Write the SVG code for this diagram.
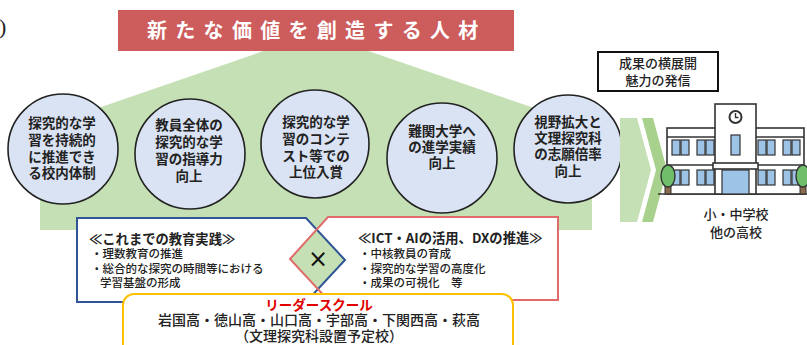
<svg xmlns="http://www.w3.org/2000/svg" width="807" height="345" viewBox="0 0 807 345">
  <style>
    text { font-family: "Noto Sans CJK JP", "Noto Sans", sans-serif; fill: #222; }
    .circle-node { fill: #dae3f3; stroke: #222; stroke-width: 1.6; }
    .ctext { font-size: 13.5px; font-weight: bold; text-anchor: middle; }
    .label { font-size: 13px; font-weight: 500; text-anchor: middle; }
    .head { font-size: 13.3px; font-weight: bold; }
    .item { font-size: 11.5px; font-weight: 500; }
    .line { stroke: #333; stroke-width: 1.6; }
    .win { fill: #9dc3e6; stroke: #333; stroke-width: 1.2; }
    .wall { fill: #fff; stroke: #333; stroke-width: 1.6; }
  </style>

  <!-- cut-off bracket at the upper left -->
  <text x="-1" y="34" style="font-family: 'Liberation Serif', serif; font-size: 22px;">)</text>

  <!-- green house-shaped backdrop -->
  <polygon id="backdrop" points="316,33 592,128 592,230 40,230 40,128" fill="#c5e0b4"/>

  <!-- title banner -->
  <g id="banner">
    <rect x="118" y="10" width="396" height="41" fill="#cd5c5c"/>
    <text x="147" y="38" style="fill:#fff; font-size:20px; font-weight:bold; letter-spacing:8.3px;">新たな価値を創造する人材</text>
  </g>

  <!-- goal circles -->
  <g id="goal-1">
    <circle class="circle-node" cx="63" cy="149" r="55"/>
    <text class="ctext"><tspan x="62" y="128">探究的な学</tspan><tspan x="62" y="145">習を持続的</tspan><tspan x="62" y="162">に推進でき</tspan><tspan x="62" y="178">る校内体制</tspan></text>
  </g>
  <g id="goal-2">
    <circle class="circle-node" cx="190" cy="154" r="55"/>
    <text class="ctext"><tspan x="189" y="130">教員全体の</tspan><tspan x="189" y="147">探究的な学</tspan><tspan x="189" y="164">習の指導力</tspan><tspan x="189" y="181">向上</tspan></text>
  </g>
  <g id="goal-3">
    <circle class="circle-node" cx="315" cy="144" r="54"/>
    <text class="ctext"><tspan x="316" y="127">探究的な学</tspan><tspan x="316" y="144">習のコンテ</tspan><tspan x="316" y="161">スト等での</tspan><tspan x="316" y="177">上位入賞</tspan></text>
  </g>
  <g id="goal-4">
    <circle class="circle-node" cx="442" cy="158" r="55"/>
    <text class="ctext"><tspan x="442" y="136">難関大学へ</tspan><tspan x="442" y="152">の進学実績</tspan><tspan x="442" y="168">向上</tspan></text>
  </g>
  <g id="goal-5">
    <circle class="circle-node" cx="568" cy="149" r="54"/>
    <text class="ctext"><tspan x="568" y="127">視野拡大と</tspan><tspan x="568" y="143">文理探究科</tspan><tspan x="568" y="159">の志願倍率</tspan><tspan x="568" y="176">向上</tspan></text>
  </g>

  <!-- arrows toward other schools -->
  <g id="connectors">
    <polygon points="620,118 637,118 651,170 637,222 620,222" fill="#c5e0b4"/>
    <polygon points="642,118 653,118 667,170 653,222 642,222 656,170" fill="#a9d18e"/>
  </g>

  <!-- spread box -->
  <g id="spread">
    <rect x="598" y="52" width="120" height="39" fill="#fff" stroke="#111" stroke-width="2"/>
    <text class="label"><tspan x="658" y="68">成果の横展開</tspan><tspan x="658" y="85">魅力の発信</tspan></text>
  </g>

  <!-- school building -->
  <g id="school">
    <line class="line" x1="658" y1="194" x2="807" y2="194"/>
    <rect class="wall" x="667" y="128" width="137" height="66"/>
    <line class="line" x1="667" y1="137" x2="804" y2="137"/>
    <line class="line" x1="667" y1="165" x2="804" y2="165"/>
    <!-- windows: upper row -->
    <rect class="win" x="672" y="140" width="8" height="15"/>
    <rect class="win" x="681" y="140" width="8" height="15"/>
    <rect class="win" x="697" y="140" width="8" height="15"/>
    <rect class="win" x="706" y="140" width="8" height="15"/>
    <rect class="win" x="758" y="140" width="8" height="15"/>
    <rect class="win" x="767" y="140" width="8" height="15"/>
    <rect class="win" x="783" y="140" width="8" height="15"/>
    <rect class="win" x="792" y="140" width="8" height="15"/>
    <!-- windows: lower row -->
    <rect class="win" x="672" y="170" width="8" height="15"/>
    <rect class="win" x="681" y="170" width="8" height="15"/>
    <rect class="win" x="697" y="170" width="8" height="15"/>
    <rect class="win" x="706" y="170" width="8" height="15"/>
    <rect class="win" x="758" y="170" width="8" height="15"/>
    <rect class="win" x="767" y="170" width="8" height="15"/>
    <rect class="win" x="783" y="170" width="8" height="15"/>
    <rect class="win" x="792" y="170" width="8" height="15"/>
    <!-- clock tower -->
    <rect class="wall" x="715" y="104" width="41" height="90"/>
    <circle cx="735.5" cy="117" r="6" fill="#fff" stroke="#333" stroke-width="2"/>
    <polyline points="735.5,113 735.5,117.5 738.5,117.5" fill="none" stroke="#333" stroke-width="1.4"/>
    <rect class="win" x="731" y="135" width="9" height="20"/>
    <rect class="wall" x="713" y="163" width="45" height="6"/>
    <rect class="win" x="722" y="170" width="27" height="24"/>
    <!-- trees -->
    <rect x="665" y="186" width="6" height="8" fill="#8c6a4c" stroke="#333" stroke-width="1"/>
    <ellipse cx="668" cy="176" rx="7" ry="11" fill="#6fbf6a" stroke="#333" stroke-width="1.4"/>
    <rect x="800" y="186" width="6" height="8" fill="#8c6a4c" stroke="#333" stroke-width="1"/>
    <ellipse cx="803" cy="176" rx="7" ry="11" fill="#6fbf6a" stroke="#333" stroke-width="1.4"/>
    <text class="label"><tspan x="736" y="219">小・中学校</tspan><tspan x="736" y="237">他の高校</tspan></text>
  </g>

  <!-- past practice box and digital box, overlapping in a diamond -->
  <g id="past-practice">
    <polygon points="77,218 306,218 345,260 306,302 77,302" fill="#fff"/>
  </g>
  <g id="digital">
    <polygon points="328,217 558,217 558,300 328,300 290,259" fill="#fff"/>
  </g>
  <g id="cross">
    <polygon points="316.7,229.5 345,260 317.9,289.1 290,259" fill="#c5e0b4"/>
    <text x="318" y="267" style="font-family:'DejaVu Sans', sans-serif; font-size:24px; text-anchor:middle; fill:#111;">×</text>
  </g>
  <polygon points="77,218 306,218 345,260 306,302 77,302" fill="none" stroke="#2f5597" stroke-width="2"/>
  <polygon points="328,217 558,217 558,300 328,300 290,259" fill="none" stroke="#e06b6b" stroke-width="2"/>

  <g id="past-practice-text">
    <text class="head" x="89" y="244">≪これまでの教育実践≫</text>
    <text class="item" x="91" y="257.5">・理数教育の推進</text>
    <text class="item" x="91" y="272.5">・総合的な探究の時間等における</text>
    <text class="item" x="100" y="286.5">学習基盤の形成</text>
  </g>
  <g id="digital-text">
    <text class="head" x="358" y="243">≪ICT・AIの活用、DXの推進≫</text>
    <text class="item" x="359" y="257.5">・中核教員の育成</text>
    <text class="item" x="359" y="272.5">・探究的な学習の高度化</text>
    <text class="item" x="359" y="286.5">・成果の可視化　等</text>
  </g>

  <!-- leader schools -->
  <g id="leader-schools">
    <rect x="123" y="294" width="390" height="80" rx="11" fill="#fff" stroke="#ffc000" stroke-width="2"/>
    <text x="319" y="310" style="font-size:13.5px; font-weight:bold; text-anchor:middle; fill:#e00000;">リーダースクール</text>
    <text x="319" y="324.5" style="font-size:14px; font-weight:500; text-anchor:middle;">岩国高・徳山高・山口高・宇部高・下関西高・萩高</text>
    <text x="319" y="341" style="font-size:14px; font-weight:500; text-anchor:middle;">（文理探究科設置予定校）</text>
  </g>
</svg>
